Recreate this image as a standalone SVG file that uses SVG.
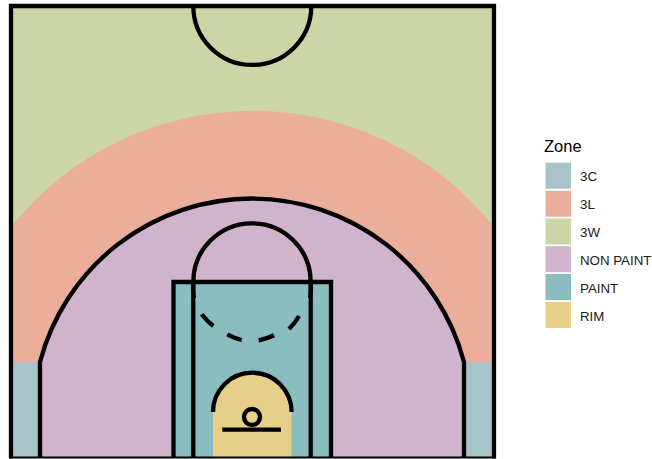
<svg xmlns="http://www.w3.org/2000/svg" width="652" height="459" viewBox="0 0 652 459">
<style>
.l{fill:none;stroke:#000;stroke-width:4.300}
.t{font-family:"Liberation Sans",Arial,sans-serif;font-size:13.300px;fill:#1a1a1a}
.n{font-family:"Liberation Sans",Arial,sans-serif;font-size:16.500px;fill:#000}
</style>
<rect width="652" height="459" fill="#fff"/>
<g id="zones">
<rect id="zone-3W" x="11" y="6" width="483" height="451" fill="#CBD5A6"/>
<path id="zone-3L" d="M11 227A309 309 0 0 1 494 227V362H11Z" fill="#EBAE9A"/>
<rect id="zone-3C-left" x="11" y="362" width="29" height="95" fill="#A7C4CB"/>
<rect id="zone-3C-right" x="464" y="362" width="30" height="95" fill="#A7C4CB"/>
<path id="zone-NON-PAINT" d="M40 457V362A219.200 219.200 0 0 1 464 362V457Z" fill="#D0B3CD"/>
<rect id="zone-PAINT" x="173" y="282" width="158" height="175" fill="#89BDC0"/>
<path id="zone-RIM" d="M213 457V412A39.300 39.300 0 0 1 291.600 412V457Z" fill="#E6CF88"/>
</g>
<g id="court">
<path class="l" d="M11 458.500V6H494V458.500"/>
<path d="M9 456.500H496V458.500H9Z" fill="#000"/>
<path class="l" d="M193.300 6A59 59 0 0 0 311.300 6"/>
<path class="l" d="M40 457V362A219.200 219.200 0 0 1 464 362V457"/>
<path class="l" d="M173.500 457V282H331V457"/>
<path class="l" d="M193.300 457V282M310.700 457V282"/>
<path class="l" d="M194 298A58.700 58.700 0 0 1 193.300 282A58.700 58.700 0 0 1 310.700 282A58.700 58.700 0 0 1 310 298"/>
<path class="l" d="M201.700 314.300A58.700 58.700 0 0 0 213.300 326M227.300 334.300A58.700 58.700 0 0 0 241.700 340M258.700 340.300A58.700 58.700 0 0 0 274 335.300M289 329A58.700 58.700 0 0 0 299 316"/>
<path class="l" d="M213 412A39.300 39.300 0 0 1 291.600 412"/>
<circle class="l" cx="252" cy="417" r="8"/>
<path class="l" d="M222.300 429.700H281"/>
</g>
<g id="legend">
<text class="n" x="544" y="152">Zone</text>
<g id="legend-3C"><rect x="545.500" y="162.700" width="25.500" height="26" fill="#A7C4CB"/><text class="t" x="580" y="181">3C</text></g>
<g id="legend-3L"><rect x="545.500" y="190.700" width="25.500" height="26" fill="#EBAE9A"/><text class="t" x="580" y="209">3L</text></g>
<g id="legend-3W"><rect x="545.500" y="218.500" width="25.500" height="26" fill="#CBD5A6"/><text class="t" x="580" y="237">3W</text></g>
<g id="legend-NON-PAINT"><rect x="545.500" y="246.200" width="25.500" height="26" fill="#D0B3CD"/><text class="t" x="580" y="265">NON PAINT</text></g>
<g id="legend-PAINT"><rect x="545.500" y="274" width="25.500" height="26" fill="#89BDC0"/><text class="t" x="580" y="292.500">PAINT</text></g>
<g id="legend-RIM"><rect x="545.500" y="302" width="25.500" height="26" fill="#E6CF88"/><text class="t" x="580" y="320.500">RIM</text></g>
</g>
</svg>
